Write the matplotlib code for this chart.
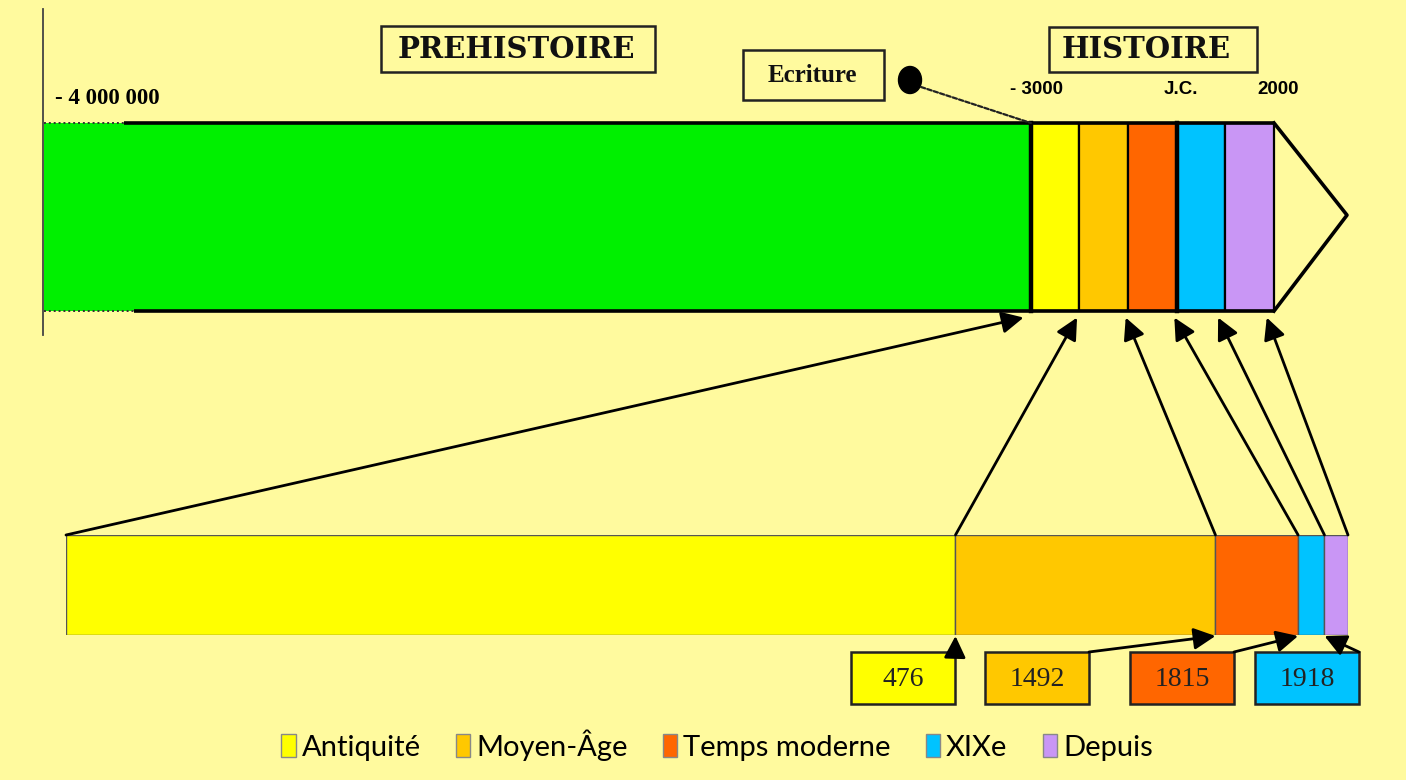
import matplotlib
matplotlib.use("Agg")
import matplotlib.pyplot as plt
from matplotlib.patches import Rectangle, Ellipse, Patch, ConnectionPatch

# ---------------- data ----------------
periods = ["Antiquité", "Moyen-Âge", "Temps moderne", "XIXe", "Depuis"]
starts = [-3000, 476, 1492, 1815, 1918]
ends = [476, 1492, 1815, 1918, 2010]
colors = ["#ffff00", "#ffc800", "#ff6600", "#00c3ff", "#c996f5"]
date_labels = ["476", "1492", "1815", "1918"]
top_tick_labels = ["- 4 000 000", "- 3000", "J.C.", "2000"]
prehist_color = "#00f000"

# ---------------- layout ----------------
W, H = 1406, 780
BG = "#fffa9e"
G = 20.29          # schematic width of the prehistory block (in period units)
TIP = 1.5          # arrow tip length of the top bar

def rect(x0, y0, x1, y1):
    return [x0 / W, 1 - y1 / H, (x1 - x0) / W, (y1 - y0) / H]

fig = plt.figure(figsize=(W / 100, H / 100), dpi=100, facecolor=BG)
ax = fig.add_axes([0, 0, 1, 1])
ax.set_xlim(0, W)
ax.set_ylim(H, 0)
ax.axis("off")

# ---------------- top schematic bar ----------------
ax_top = fig.add_axes(rect(44, 123, 1347, 311))
ax_top.set_xlim(0, G + len(periods) + TIP)
ax_top.set_ylim(0, 1)
ax_top.axis("off")
ax_top.barh(0.5, G, left=0, height=1, color=prehist_color, lw=0)
for i, c in enumerate(colors):
    ax_top.barh(0.5, 1, left=G + i, height=1, color=c, edgecolor="black", lw=1.6)
end = G + len(periods)
lw = 2.6
ax_top.plot([1.65, end], [1, 1], color="black", lw=lw, clip_on=False, solid_capstyle="butt")
ax_top.plot([0, 1.65], [1, 1], color="#333", lw=1.4, ls=(0, (1, 1.5)), clip_on=False)
ax_top.plot([1.85, end], [0, 0], color="black", lw=lw, clip_on=False, solid_capstyle="butt")
ax_top.plot([0, 1.85], [0, 0], color="#333", lw=1.4, ls=(0, (1, 1.5)), clip_on=False)
ax_top.plot([end, end + TIP, end], [1, 0.51, 0], color="black", lw=lw, clip_on=False)
for xb in (G, G + 3):
    ax_top.plot([xb, xb], [0, 1], color="black", lw=3.2, clip_on=False)
ax_top.plot([-0.02, -0.02], [-0.128, 1.606], color="#444", lw=1.3, clip_on=False)

tick_pos = [0.23, G + 0.12, G + 3.08, G + 5.08]
tick_y = [1.128, 1.176, 1.176, 1.176]
for k, (lab, xp, yp) in enumerate(zip(top_tick_labels, tick_pos, tick_y)):
    if k == 0:
        ax_top.text(xp, yp, lab, ha="left", va="center", fontsize=16.5,
                    fontweight="bold", family="Liberation Serif", clip_on=False)
    else:
        ax_top.text(xp, yp, lab, ha="center", va="center", fontsize=13.5,
                    fontweight="bold", family="Liberation Sans", clip_on=False)

# ---------------- bottom bar (years, linear) ----------------
ax_bot = fig.add_axes(rect(66, 535, 1348, 635))
ax_bot.set_xlim(starts[0], ends[-1])
ax_bot.set_ylim(0, 1)
ax_bot.axis("off")
for s, e, c in zip(starts, ends, colors):
    ax_bot.barh(0.5, e - s, left=s, height=1, color=c, edgecolor="#555", lw=1.0)

# ---------------- zoom arrows ----------------
arrow_style = "-|>,head_length=0.6,head_width=0.3"
bounds = starts + [ends[-1]]
for i, yr in enumerate(bounds):
    tx = G + i - (0.15 if i in (0, 4, 5) else 0.05)
    con = ConnectionPatch(xyA=(yr, 1), coordsA=ax_bot.transData,
                          xyB=(tx, -0.035), coordsB=ax_top.transData,
                          arrowstyle=arrow_style, mutation_scale=22,
                          lw=2.0, color="black", shrinkA=0, shrinkB=0)
    fig.add_artist(con)

# ---------------- date boxes ----------------
box_left = [851, 985, 1130, 1255]
box_w, box_top, box_h = 104, 652, 52
for lab, x0, c, yr in zip(date_labels, box_left, colors, ends):
    ax.add_patch(Rectangle((x0, box_top), box_w, box_h, facecolor=c,
                           edgecolor="#222", lw=1.8))
    ax.text(x0 + box_w / 2, box_top + box_h / 2 + 1, lab, ha="center", va="center",
            fontsize=20, family="Liberation Serif", color="#222")
    con = ConnectionPatch(xyA=(x0 + box_w, box_top), coordsA=ax.transData,
                          xyB=(int(yr), -0.01), coordsB=ax_bot.transData,
                          arrowstyle=arrow_style, mutation_scale=22,
                          lw=2.0, color="black", shrinkA=0, shrinkB=0)
    fig.add_artist(con)

# ---------------- title boxes ----------------
ax.add_patch(Rectangle((381, 26), 274, 46, fill=False, edgecolor="#222", lw=1.8))
ax.text(516, 49, "PREHISTOIRE", ha="center", va="center", fontsize=21,
        fontweight="bold", family="DejaVu Serif", color="#111")
ax.add_patch(Rectangle((1049, 27), 208, 45, fill=False, edgecolor="#222", lw=1.8))
ax.text(1146, 50, "HISTOIRE", ha="center", va="center", fontsize=21,
        fontweight="bold", family="DejaVu Serif", color="#111")
ax.add_patch(Rectangle((743, 50), 141, 50, fill=False, edgecolor="#222", lw=1.8))
ax.text(812, 76, "Ecriture", ha="center", va="center", fontsize=18,
        fontweight="bold", family="Liberation Serif", color="#111")
ax.add_patch(Ellipse((910, 80), 23, 27, color="black"))
con = ConnectionPatch(xyA=(921, 87), coordsA=ax.transData,
                      xyB=(G, 1), coordsB=ax_top.transData,
                      lw=1.6, color="#222", ls=(0, (2, 1)))
fig.add_artist(con)

# ---------------- legend ----------------
handles = [Patch(facecolor=c, edgecolor="#888", lw=1.0, label=p)
           for p, c in zip(periods, colors)]
fig.legend(handles=handles, loc="center", bbox_to_anchor=(717 / W, 1 - 745 / H),
           ncol=5, frameon=False, prop={"family": "Lato", "size": 21},
           handlelength=0.5, handleheight=0.8, handletextpad=0.2, columnspacing=1.2)

fig.savefig("out.png", dpi=100, facecolor=BG)
